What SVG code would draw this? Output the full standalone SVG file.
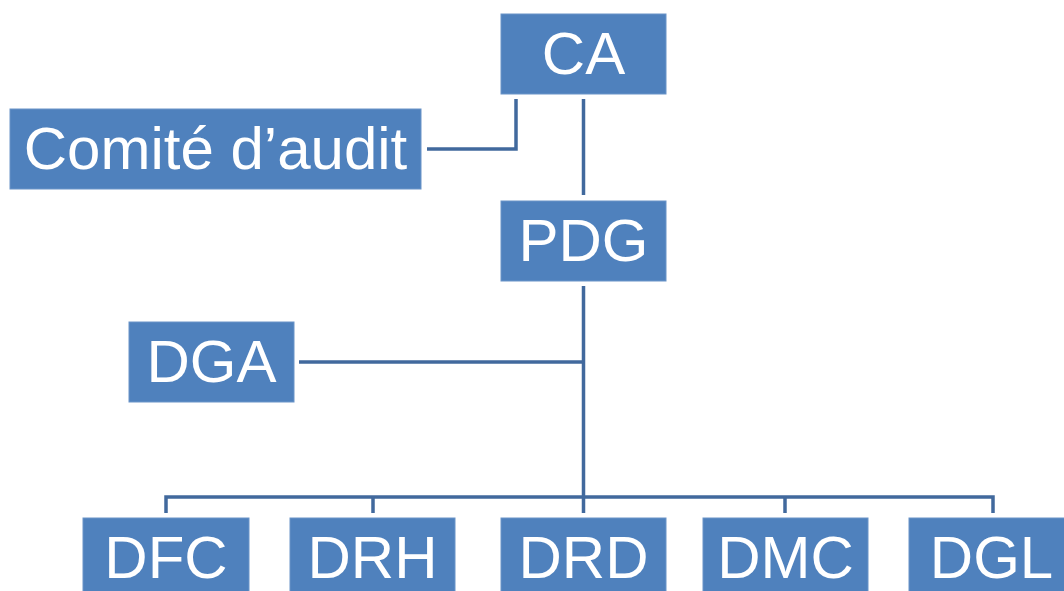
<svg xmlns="http://www.w3.org/2000/svg" width="1064" height="591" viewBox="0 0 1064 591">
<style>
.box{fill:#4F81BD;stroke:#6A94C8;stroke-width:1}
.lbl{fill:#FFFFFF;font-family:"Liberation Sans",Arial,sans-serif;font-size:60px;text-anchor:middle}
.con{fill:none;stroke:#41699D;stroke-width:3.5;stroke-linejoin:miter}
</style>
<rect width="1064" height="591" fill="#FFFFFF"/>
<g id="connectors">
<polyline class="con" points="427,149 516,149 516,99"/>
<line class="con" x1="583.5" y1="99" x2="583.5" y2="195"/>
<line class="con" x1="583.5" y1="286" x2="583.5" y2="513"/>
<line class="con" x1="299" y1="362" x2="583.5" y2="362"/>
<polyline class="con" points="166,513 166,497 993,497 993,513"/>
<line class="con" x1="373" y1="497" x2="373" y2="513"/>
<line class="con" x1="785" y1="497" x2="785" y2="513"/>
</g>
<g id="node-ca"><rect class="box" x="501" y="14" width="165" height="80"/><text class="lbl" x="583.5" y="74">CA</text></g>
<g id="node-comite"><rect class="box" x="10" y="109" width="411" height="80"/><text class="lbl" x="215.5" y="169">Comité d’audit</text></g>
<g id="node-pdg"><rect class="box" x="501" y="201" width="165" height="80"/><text class="lbl" x="583.5" y="261">PDG</text></g>
<g id="node-dga"><rect class="box" x="129" y="322" width="165" height="80"/><text class="lbl" x="211.5" y="382">DGA</text></g>
<g id="node-dfc"><rect class="box" x="83" y="518" width="166" height="80"/><text class="lbl" x="166" y="578">DFC</text></g>
<g id="node-drh"><rect class="box" x="290" y="518" width="165" height="80"/><text class="lbl" x="372.5" y="578">DRH</text></g>
<g id="node-drd"><rect class="box" x="501" y="518" width="165" height="80"/><text class="lbl" x="583.5" y="578">DRD</text></g>
<g id="node-dmc"><rect class="box" x="703" y="518" width="165" height="80"/><text class="lbl" x="785.5" y="578">DMC</text></g>
<g id="node-dgl"><rect class="box" x="909" y="518" width="165" height="80"/><text class="lbl" x="991.5" y="578">DGL</text></g>
</svg>
